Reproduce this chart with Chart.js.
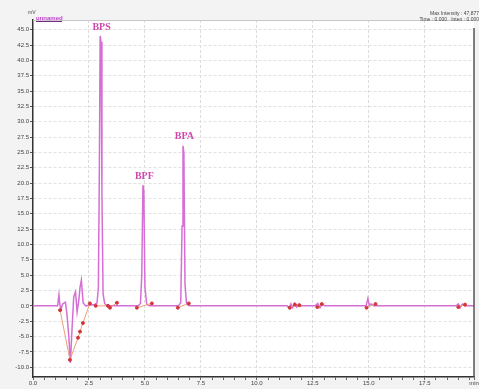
<!DOCTYPE html>
<html>
<head>
<meta charset="utf-8">
<script src="https://cdn.jsdelivr.net/npm/chart.js@4"></script>
<style>
  html, body { margin: 0; padding: 0; background: #f3f3f3; }
  #wrap { width: 479px; height: 389px; }
</style>
</head>
<body>
<div id="wrap"><canvas id="chromatogram"></canvas></div>
<script>
// retention time (min) and signal of the trace
const traceTimes = [0, 1.1, 1.16, 1.2, 1.25, 1.32, 1.45, 1.52, 1.6, 1.67, 1.74, 1.82, 1.9, 1.97, 2.05, 2.1, 2.16, 2.24, 2.35,
    2.5, 2.75, 2.86, 2.92, 2.96, 3.0, 3.04, 3.08, 3.13, 3.2, 3.3,
    4.7, 4.8, 4.86, 4.91, 4.95, 5.0, 5.08, 5.2,
    6.5, 6.6, 6.66, 6.7, 6.74, 6.79, 6.86, 6.98,
    11.35, 11.45, 11.52, 11.6, 11.68, 11.78, 11.88, 11.98,
    12.6, 12.72, 12.82, 12.92, 13.02,
    14.88, 14.96, 15.02, 15.1, 15.22, 15.35,
    18.9, 19.0, 19.08, 19.18, 19.28, 19.7];
const traceValues = [0, 0, 1.8, 0.2, -0.6, 0.3, 0.6, -1.5, -5.0, -9.3, -4.0, 1.5, 2.3, -1.0, 1.0, 3.0, 4.2, 0.5, 0,
    0.1, 0.2, 0.5, 3.0, 20.0, 44.0, 43.0, 18.0, 2.0, 0.4, 0,
    0, 0.4, 5.0, 19.7, 18.8, 3.0, 0.3, 0,
    0, 0.5, 13.0, 26.1, 25.0, 3.5, 0.3, 0,
    0, -0.4, 0.3, -0.3, 0.4, -0.2, 0.3, 0,
    0, 0.4, -0.3, 0.3, 0,
    0, 1.2, 0.1, 0.3, 0, 0,
    0, 0.3, -0.3, 0.3, 0, 0];

// integration baseline points (null breaks the line)
const baseTimes = [1.21, 1.65, 2.01, 2.1, 2.23, 2.54, null, 2.8, 3.35, 3.44, 3.75, null, 4.64, 5.31, null, 6.47, 6.96, null,
    11.47, 11.7, 11.9, null, 12.7, 12.9, null, 14.9, 15.3, null, 19.0, 19.3];
const baseValues = [-0.7, -8.8, -5.2, -4.2, -2.8, 0.4, null, 0, 0, -0.3, 0.5, null, -0.3, 0.4, null, -0.3, 0.4, null,
    -0.3, 0.2, 0.1, null, -0.2, 0.3, null, -0.3, 0.3, null, -0.2, 0.2];

const peakNames = ['BPS', 'BPF', 'BPA'];
const peakTimes = [3.02, 4.93, 6.72];
const peakHeights = [44.0, 19.7, 26.1];

const xMajorTicks = [0, 2.5, 5.0, 7.5, 10.0, 12.5, 15.0, 17.5];
const xMinorStep = 0.5;
const xMax = 19.7;
const yMin = -11.6;
const yMax = 46.6;
const yStep = 2.5;

const traceColor = '#d66fd4';
const labelColor = '#cf46ad';

function isMajor(v) {
    return Math.abs(v / 2.5 - Math.round(v / 2.5)) < 1e-6;
}

const tracePoints = traceTimes.map((t, i) => ({ x: t, y: traceValues[i] }));
const basePoints = baseTimes.map((t, i) => (t === null ? { x: null, y: null } : { x: t, y: baseValues[i] }));

const decorPlugin = {
    id: 'decor',
    beforeDraw(chart) {
        const { ctx, chartArea: a } = chart;
        ctx.save();
        ctx.fillStyle = '#ffffff';
        ctx.fillRect(a.left, a.top, a.right - a.left, a.bottom - a.top);
        ctx.restore();
    },
    afterDraw(chart) {
        const { ctx, chartArea: a, scales } = chart;
        ctx.save();
        // frame
        ctx.strokeStyle = '#c8c8c8';
        ctx.lineWidth = 1;
        ctx.beginPath();
        ctx.moveTo(a.left, a.top + 0.5);
        ctx.lineTo(a.right, a.top + 0.5);
        ctx.stroke();
        ctx.strokeStyle = '#555';
        ctx.lineWidth = 1.5;
        ctx.beginPath();
        ctx.moveTo(a.right, a.top + 8);
        ctx.lineTo(a.right, a.bottom);
        ctx.stroke();

        // header texts
        ctx.fillStyle = '#444';
        ctx.font = '5px "Liberation Sans", Arial, sans-serif';
        ctx.textBaseline = 'middle';
        ctx.textAlign = 'right';
        ctx.fillText('Max Intensity : 47,877', 479, 14);
        ctx.fillText('Time : 0.000   Inten : 0.000', 479, 20);
        ctx.textAlign = 'left';
        ctx.fillText('mV', 28, 13);

        // trace name box
        ctx.fillStyle = '#c23fd0';
        ctx.font = 'bold 6px "Liberation Sans", Arial, sans-serif';
        ctx.fillText('unnamed', 36, 18);
        ctx.fillStyle = '#7a2a88';
        ctx.fillRect(36, 21, 26, 1);

        // peak names
        ctx.fillStyle = labelColor;
        ctx.font = 'bold 10px "Liberation Serif", "DejaVu Serif", serif';
        ctx.textAlign = 'center';
        ctx.textBaseline = 'bottom';
        peakNames.forEach((name, i) => {
            const px = scales.x.getPixelForValue(peakTimes[i]);
            const py = scales.y.getPixelForValue(peakHeights[i]);
            ctx.fillText(name, px + 1, py - 4);
        });
        ctx.restore();
    }
};

new Chart(document.getElementById('chromatogram'), {
    type: 'line',
    data: {
        datasets: [
            {
                label: 'baseline',
                data: basePoints,
                borderColor: '#eaa27a',
                borderWidth: 1,
                pointRadius: 1.5,
                pointBackgroundColor: '#d2363a',
                pointBorderColor: '#d2363a',
                spanGaps: false,
                tension: 0
            },
            {
                label: 'trace',
                data: tracePoints,
                borderColor: traceColor,
                borderWidth: 1.5,
                pointRadius: 0,
                tension: 0
            }
        ]
    },
    options: {
        responsive: true,
        maintainAspectRatio: false,
        animation: false,
        layout: { padding: { left: 0, right: 5, top: 20, bottom: 0 } },
        plugins: {
            legend: { display: false },
            tooltip: { enabled: false }
        },
        scales: {
            x: {
                type: 'linear',
                min: 0,
                max: xMax,
                afterBuildTicks(scale) {
                    const ticks = [];
                    for (let v = 0; v < xMax - 0.01; v += xMinorStep) {
                        ticks.push({ value: Math.round(v * 10) / 10 });
                    }
                    ticks.push({ value: xMax });
                    scale.ticks = ticks;
                },
                afterFit(scale) { scale.height = 12; },
                grid: {
                    color: ctx => (ctx.tick && isMajor(ctx.tick.value) && ctx.tick.value > 0 ? '#dcdcdc' : 'transparent'),
                    tickColor: '#666',
                    tickLength: 3,
                    lineWidth: 1
                },
                border: { color: '#333', width: 1.5, dash: [3, 2] },
                ticks: {
                    autoSkip: false,
                    maxRotation: 0,
                    padding: 0,
                    color: '#444',
                    font: { size: 6, family: '"Liberation Sans", Arial, sans-serif' },
                    callback: v => {
                        if (Math.abs(v - xMax) < 1e-6) return 'min';
                        return xMajorTicks.some(m => Math.abs(m - v) < 1e-6) ? v.toFixed(1) : '';
                    }
                }
            },
            y: {
                min: yMin,
                max: yMax,
                afterFit(scale) { scale.width = 33; },
                grid: {
                    color: ctx => (ctx.tick && Math.abs(ctx.tick.value) > 1e-6 ? '#e2e2e2' : 'transparent'),
                    tickColor: '#555',
                    tickLength: 3
                },
                border: { color: '#333', width: 1.5, dash: [3, 2] },
                ticks: {
                    stepSize: yStep,
                    maxTicksLimit: 40,
                    includeBounds: false,
                    padding: 1,
                    color: '#444',
                    font: { size: 6, family: '"Liberation Sans", Arial, sans-serif' },
                    callback: v => v.toFixed(1)
                }
            }
        }
    },
    plugins: [decorPlugin]
});
</script>
</body>
</html>
